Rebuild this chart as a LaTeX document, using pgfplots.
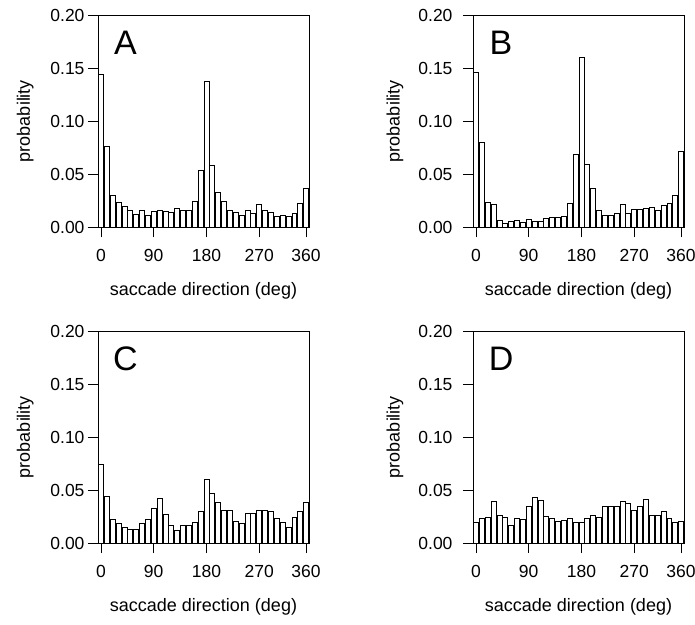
\documentclass[border=0pt]{standalone}
\usepackage{fontspec}
\setmainfont{Liberation Sans}
\usepackage{pgfplots}
\pgfplotsset{compat=1.18}

\tikzset{letter/.style={font=\fontsize{34}{34}\selectfont}}

\pgfplotsset{
  panel/.style={
    scale only axis,
    width=211pt, height=212pt,
    anchor=south west,
    xmin=-5, xmax=355,
    ymin=0, ymax=0.2,
    xtick={0,90,180,270,350},
    xticklabels={0,90,180,270,360},
    ytick={0,0.05,0.1,0.15,0.2},
    yticklabels={0.00,0.05,0.10,0.15,0.20},
    xtick pos=bottom, ytick pos=left,
    tick align=outside,
    major tick length=10pt,
    every tick/.style={black, line width=0.8pt},
    axis line style={line width=0.8pt},
    tick label style={font=\fontsize{17.5}{17.5}\selectfont},
    label style={font=\fontsize{18}{18}\selectfont},
    xticklabel shift=9pt,
    xlabel={saccade direction (deg)},
    ylabel={probability},
    xlabel style={at={(axis description cs:0.5,-0.3)}, anchor=center},
    ylabel style={at={(axis description cs:-0.345,0.5)}, anchor=center},
    bar width=8.5,
    clip=false,
  },
  rightcol/.style={
    yticklabel style={xshift=-7pt},
    ylabel style={at={(axis description cs:-0.37,0.5)}},
  },
  hbar/.style={ybar, draw=black, fill=white, line width=0.7pt},
}

\begin{document}
\begin{tikzpicture}
\useasboundingbox (0,0) rectangle (695pt,-624pt);

% A
\begin{axis}[panel, at={(98pt,-227pt)}]
\addplot[hbar] coordinates {
(0,0.144) (10,0.076) (20,0.030) (30,0.023) (40,0.0195) (50,0.0157)
(60,0.012) (70,0.0154) (80,0.011) (90,0.0145) (100,0.0157) (110,0.015)
(120,0.0138) (130,0.018) (140,0.0154) (150,0.0157) (160,0.024) (170,0.053)
(180,0.137) (190,0.058) (200,0.033) (210,0.024) (220,0.0154) (230,0.0135)
(240,0.0107) (250,0.0154) (260,0.0132) (270,0.0214) (280,0.0154) (290,0.014)
(300,0.010) (310,0.011) (320,0.010) (330,0.0129) (340,0.0223) (350,0.0365)
};
\node[letter] at (axis description cs:0.13,0.87) {A};
\end{axis}

% B
\begin{axis}[panel, rightcol, at={(473pt,-227pt)}]
\addplot[hbar] coordinates {
(0,0.146) (10,0.080) (20,0.023) (30,0.021) (40,0.0066) (50,0.0035)
(60,0.0053) (70,0.0063) (80,0.0047) (90,0.0072) (100,0.005) (110,0.0057)
(120,0.0079) (130,0.0091) (140,0.0088) (150,0.0097) (160,0.0223) (170,0.069)
(180,0.160) (190,0.0588) (200,0.0368) (210,0.0157) (220,0.011) (230,0.011)
(240,0.0132) (250,0.0214) (260,0.0132) (270,0.0167) (280,0.0167) (290,0.0176)
(300,0.0186) (310,0.016) (320,0.0208) (330,0.022) (340,0.030) (350,0.071)
};
\node[letter] at (axis description cs:0.133,0.87) {B};
\end{axis}

% C
\begin{axis}[panel, at={(98pt,-543pt)}]
\addplot[hbar] coordinates {
(0,0.0745) (10,0.0443) (20,0.0226) (30,0.0189) (40,0.0148) (50,0.0132)
(60,0.0132) (70,0.0182) (80,0.022) (90,0.0327) (100,0.0425) (110,0.0274)
(120,0.017) (130,0.0123) (140,0.017) (150,0.017) (160,0.0195) (170,0.030)
(180,0.0604) (190,0.047) (200,0.0387) (210,0.031) (220,0.031) (230,0.0208)
(240,0.0189) (250,0.028) (260,0.028) (270,0.031) (280,0.031) (290,0.030)
(300,0.0236) (310,0.0195) (320,0.0151) (330,0.0242) (340,0.030) (350,0.0384)
};
\node[letter] at (axis description cs:0.13,0.87) {C};
\end{axis}

% D
\begin{axis}[panel, rightcol, at={(473pt,-543pt)}]
\addplot[hbar] coordinates {
(0,0.0195) (10,0.0236) (20,0.0245) (30,0.0393) (40,0.026) (50,0.0245)
(60,0.017) (70,0.0236) (80,0.022) (90,0.035) (100,0.043) (110,0.0406)
(120,0.0255) (130,0.0236) (140,0.020) (150,0.0214) (160,0.023) (170,0.0195)
(180,0.0198) (190,0.0236) (200,0.026) (210,0.0245) (220,0.035) (230,0.0343)
(240,0.035) (250,0.0396) (260,0.0374) (270,0.0305) (280,0.035) (290,0.0415)
(300,0.0264) (310,0.0264) (320,0.030) (330,0.0236) (340,0.0192) (350,0.0208)
};
\node[letter] at (axis description cs:0.133,0.87) {D};
\end{axis}
\end{tikzpicture}
\end{document}
